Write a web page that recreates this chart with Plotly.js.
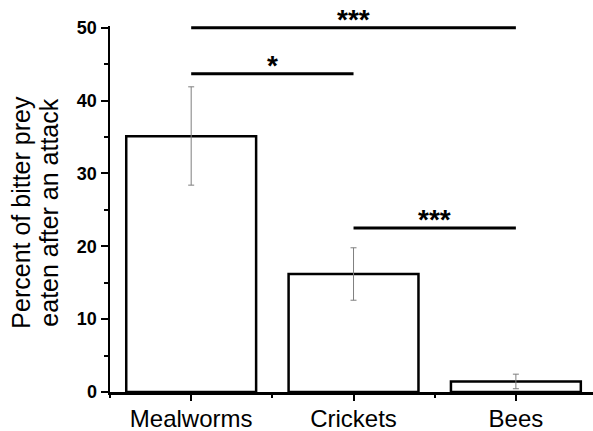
<!DOCTYPE html>
<html>
<head>
<meta charset="utf-8">
<script src="https://cdn.plot.ly/plotly-3.0.1.min.js"></script>
<style>html,body{margin:0;padding:0;background:#fff;}#chart{width:593px;height:431px;}</style>
</head>
<body>
<div id="chart"></div>
<script>
// ---- data ----
var categories = ["Mealworms", "Crickets", "Bees"];
var percentEaten = [35.1, 16.2, 1.45];
var errorUpper = [6.8, 3.6, 1.0];
var errorLower = [6.7, 3.6, 1.0];
var yTickVals = [0, 10, 20, 30, 40, 50];
// significance comparisons: from index, to index, bar height, label
var sigFrom = [0, 0, 1];
var sigTo = [2, 1, 2];
var sigLevel = [50, 43.7, 22.5];
var sigLabel = ["***", "*", "***"];
var yTitleLines = ["Percent of bitter prey", "eaten after an attack"];

var FONT = "Liberation Sans, Arial, sans-serif";
var xIdx = categories.map(function (c, i) { return i; });

var traces = [{
  type: "bar",
  x: xIdx,
  y: percentEaten,
  width: 0.8,
  marker: { color: "#ffffff", line: { color: "#000000", width: 2.5 } },
  error_y: {
    type: "data", symmetric: false,
    array: errorUpper, arrayminus: errorLower,
    color: "#7f7f7f", thickness: 1, width: 3
  },
  hoverinfo: "none",
  showlegend: false
}];

var annotations = [];
for (var k = 0; k < sigFrom.length; k++) {
  traces.push({
    type: "scatter", mode: "lines",
    x: [sigFrom[k], sigTo[k]],
    y: [sigLevel[k], sigLevel[k]],
    line: { color: "#000000", width: 3 },
    cliponaxis: false,
    hoverinfo: "none",
    showlegend: false
  });
  annotations.push({
    xref: "x", yref: "y",
    x: (sigFrom[k] + sigTo[k]) / 2, y: sigLevel[k],
    text: "<b>" + sigLabel[k] + "</b>", showarrow: false,
    xanchor: "center", yanchor: "bottom", yshift: -9,
    font: { family: FONT, size: 28, color: "#000000" }
  });
}
annotations.push({
  xref: "paper", yref: "paper", x: 0, y: 0.49,
  xanchor: "center", yanchor: "middle", xshift: -89,
  textangle: -90, showarrow: false, text: yTitleLines[0],
  font: { family: FONT, size: 25, color: "#000000" }
});
annotations.push({
  xref: "paper", yref: "paper", x: 0, y: 0.49,
  xanchor: "center", yanchor: "middle", xshift: -61,
  textangle: -90, showarrow: false, text: yTitleLines[1],
  font: { family: FONT, size: 25, color: "#000000" }
});

var layout = {
  width: 593, height: 431,
  margin: { l: 110, r: 0, t: 25.5, b: 39, pad: 0 },
  paper_bgcolor: "#ffffff", plot_bgcolor: "#ffffff",
  showlegend: false,
  font: { family: FONT, color: "#000000" },
  xaxis: {
    type: "linear",
    range: [-0.5, 2.475],
    tickmode: "array", tickvals: xIdx, ticktext: categories,
    ticks: "outside", ticklen: 6, tickwidth: 2, tickcolor: "#000000",
    ticklabelstandoff: -2,
    minor: { tickmode: "array", tickvals: [-0.5, 0.5, 1.5, 2.5], ticks: "outside", ticklen: 3, tickwidth: 2, tickcolor: "#000000" },
    showline: true, linewidth: 2.5, linecolor: "#000000",
    showgrid: false, zeroline: false,
    tickfont: { family: FONT, size: 24, color: "#000000" },
    fixedrange: true
  },
  yaxis: {
    range: [0, 50.25],
    tickmode: "array", tickvals: yTickVals,
    ticktext: yTickVals.map(function (v) { return "<b>" + v + "</b>"; }),
    ticks: "outside", ticklen: 7, tickwidth: 2, tickcolor: "#000000",
    minor: { dtick: 5, ticks: "outside", ticklen: 4, tickwidth: 2, tickcolor: "#000000" },
    showline: true, linewidth: 2.5, linecolor: "#000000",
    showgrid: false, zeroline: false,
    tickfont: { family: FONT, size: 18, color: "#000000" },
    fixedrange: true
  },
  annotations: annotations
};

Plotly.newPlot("chart", traces, layout, { displayModeBar: false, staticPlot: true });
</script>
</body>
</html>
